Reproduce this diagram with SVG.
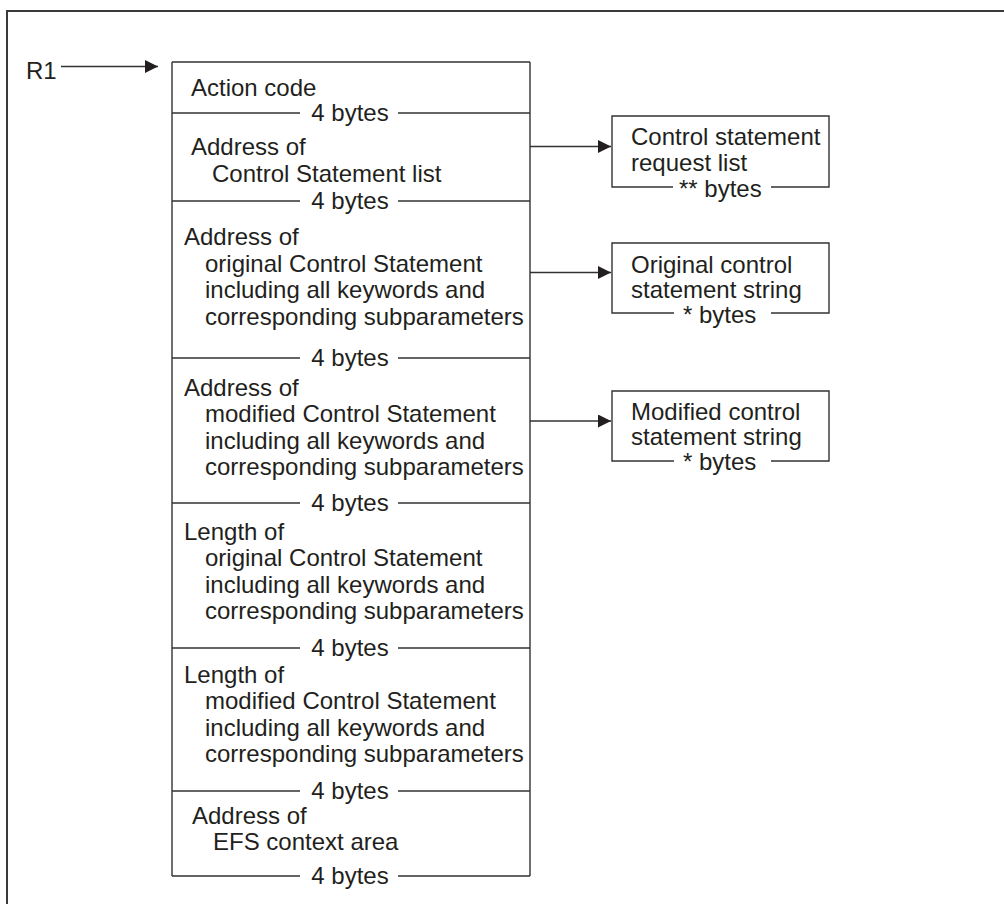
<svg xmlns="http://www.w3.org/2000/svg" width="1004" height="904" viewBox="0 0 1004 904">
  <style>
    .t { font-family: "Liberation Sans", Arial, sans-serif; font-size: 24px; fill: #231f20; }
    .c { text-anchor: middle; }
    .ln { stroke: #333; stroke-width: 1.4; fill: none; }
    .frame { stroke: #3a3a3a; stroke-width: 2; fill: none; }
  </style>
  <defs>
    <marker id="arrow" markerWidth="13" markerHeight="13" refX="13" refY="6.5" orient="auto" markerUnits="userSpaceOnUse">
      <path d="M0,0 L13,6.5 L0,13 Z" fill="#231f20"/>
    </marker>
  </defs>

  <rect width="1004" height="904" fill="#fff"/>
  <!-- outer frame (open to the right and bottom) -->
  <path class="frame" d="M7,904 V11 H1004"/>

  <!-- parameter list block -->
  <g id="param-list">
    <path class="ln" d="M172,62 H530 M172,62 V876 M530,62 V876"/>
    <!-- field separators, each broken by its size label -->
    <path class="ln" d="M172,113 H300 M398,113 H530"/>
    <path class="ln" d="M172,201 H300 M398,201 H530"/>
    <path class="ln" d="M172,358 H300 M398,358 H530"/>
    <path class="ln" d="M172,503 H300 M398,503 H530"/>
    <path class="ln" d="M172,648 H300 M398,648 H530"/>
    <path class="ln" d="M172,791 H300 M398,791 H530"/>
    <path class="ln" d="M172,876 H300 M398,876 H530"/>

    <text class="t c" x="350" y="121">4 bytes</text>
    <text class="t c" x="350" y="209">4 bytes</text>
    <text class="t c" x="350" y="366">4 bytes</text>
    <text class="t c" x="350" y="511">4 bytes</text>
    <text class="t c" x="350" y="656">4 bytes</text>
    <text class="t c" x="350" y="799">4 bytes</text>
    <text class="t c" x="350" y="884">4 bytes</text>
  </g>

  <g id="field-action-code">
    <text class="t" x="191" y="96">Action code</text>
  </g>
  <g id="field-stmt-list-addr">
    <text class="t" x="191" y="155">Address of</text>
    <text class="t" x="212" y="181.5">Control Statement list</text>
  </g>
  <g id="field-orig-addr">
    <text class="t" x="184" y="245">Address of</text>
    <text class="t" x="205" y="271.5">original Control Statement</text>
    <text class="t" x="205" y="298">including all keywords and</text>
    <text class="t" x="205" y="325">corresponding subparameters</text>
  </g>
  <g id="field-mod-addr">
    <text class="t" x="184" y="395.5">Address of</text>
    <text class="t" x="205" y="422">modified Control Statement</text>
    <text class="t" x="205" y="448.5">including all keywords and</text>
    <text class="t" x="205" y="475">corresponding subparameters</text>
  </g>
  <g id="field-orig-len">
    <text class="t" x="184" y="539.5">Length of</text>
    <text class="t" x="205" y="566">original Control Statement</text>
    <text class="t" x="205" y="592.5">including all keywords and</text>
    <text class="t" x="205" y="619">corresponding subparameters</text>
  </g>
  <g id="field-mod-len">
    <text class="t" x="184" y="682.5">Length of</text>
    <text class="t" x="205" y="709">modified Control Statement</text>
    <text class="t" x="205" y="735.5">including all keywords and</text>
    <text class="t" x="205" y="762">corresponding subparameters</text>
  </g>
  <g id="field-efs-addr">
    <text class="t" x="192" y="823.5">Address of</text>
    <text class="t" x="213" y="850">EFS context area</text>
  </g>

  <g id="r1">
    <text class="t" x="26" y="79">R1</text>
  </g>

  <!-- pointed-to areas -->
  <g id="request-list">
    <path class="ln" d="M673,187 H612 V116 H829 V187 H771"/>
    <text class="t" x="631" y="145">Control statement</text>
    <text class="t" x="631" y="170.5">request list</text>
    <text class="t" x="679" y="196.5">** bytes</text>
  </g>
  <g id="orig-string">
    <path class="ln" d="M674,313 H612 V243 H829 V313 H771"/>
    <text class="t" x="631" y="273">Original control</text>
    <text class="t" x="631" y="297.5">statement string</text>
    <text class="t" x="683" y="322.5">* bytes</text>
  </g>
  <g id="mod-string">
    <path class="ln" d="M674,461 H612 V391 H829 V461 H771"/>
    <text class="t" x="631" y="420">Modified control</text>
    <text class="t" x="631" y="444.5">statement string</text>
    <text class="t" x="683" y="469.5">* bytes</text>
  </g>

  <g id="connectors">
    <line class="ln" x1="61" y1="66.5" x2="158" y2="66.5" marker-end="url(#arrow)"/>
    <line class="ln" x1="530" y1="146.5" x2="611" y2="146.5" marker-end="url(#arrow)"/>
    <line class="ln" x1="530" y1="272.5" x2="611" y2="272.5" marker-end="url(#arrow)"/>
    <line class="ln" x1="530" y1="421" x2="611" y2="421" marker-end="url(#arrow)"/>
  </g>
</svg>
